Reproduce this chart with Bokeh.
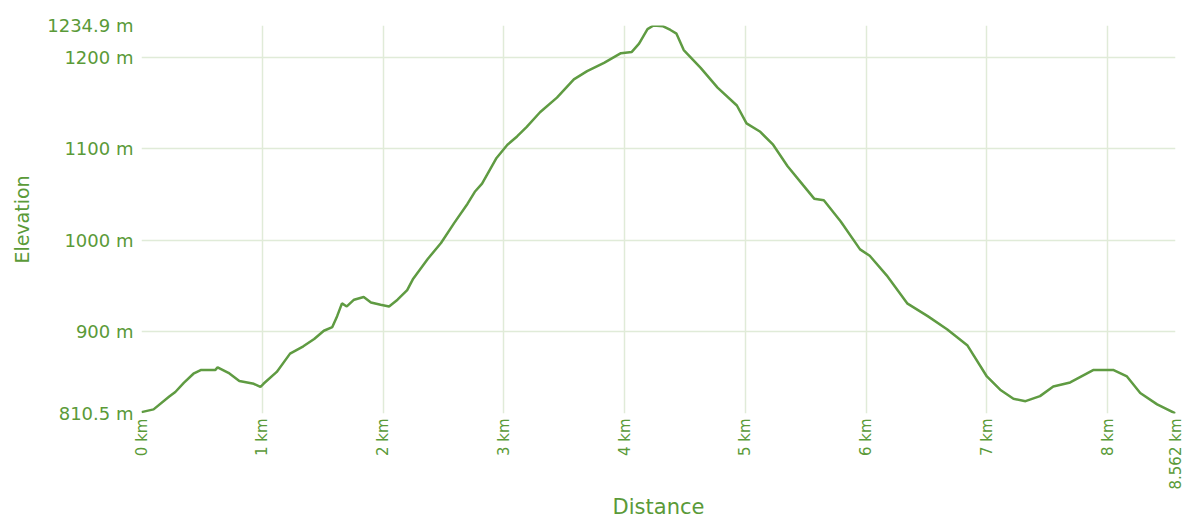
import math
from bokeh.plotting import figure
from bokeh.models import Range1d, FixedTicker, CustomJSTickFormatter
from bokeh.embed import file_html
from bokeh.resources import INLINE

# Distance along the track (km) and elevation (m)
dist = [0, 0.10, 0.23, 0.28, 0.35, 0.43, 0.49, 0.61, 0.63, 0.72, 0.81, 0.93, 0.985,
        1.01, 1.12, 1.23, 1.34, 1.43, 1.51, 1.58, 1.62, 1.66, 1.70, 1.76, 1.84, 1.90,
        1.98, 2.05, 2.12, 2.20, 2.25, 2.37, 2.48, 2.59, 2.70, 2.76, 2.82, 2.94, 3.03,
        3.11, 3.19, 3.30, 3.44, 3.58, 3.69, 3.83, 3.97, 4.06, 4.12, 4.19, 4.24, 4.32,
        4.38, 4.43, 4.49, 4.63, 4.77, 4.93, 5.01, 5.12, 5.23, 5.35, 5.48, 5.57, 5.65,
        5.79, 5.95, 6.03, 6.17, 6.34, 6.51, 6.67, 6.84, 7.00, 7.11, 7.22, 7.32, 7.44,
        7.55, 7.69, 7.88, 8.05, 8.16, 8.27, 8.41, 8.562]
elev = [812, 815, 829, 834, 844, 854, 858, 858, 861, 855, 846, 843, 839.5,
        843, 856, 876, 884, 892, 901, 905, 917, 931, 927.6, 935, 938, 932,
        929.5, 927.6, 935, 945.5, 958, 979.5, 997, 1019, 1040, 1053, 1062, 1090, 1104.5,
        1113.5, 1124, 1140, 1156, 1176, 1185, 1194, 1204.6, 1206, 1215, 1231, 1234.9, 1234,
        1230, 1226, 1208, 1188.5, 1167, 1147.4, 1127.8, 1119, 1104.5, 1081, 1060, 1045.5, 1043.8,
        1020.6, 990, 983, 961.6, 931, 917, 902.7, 884.8, 851, 836.5, 826.6, 824, 829.5,
        840, 844.5, 858, 858, 851, 833, 820.5, 810.5]

x_ticks = [0, 1, 2, 3, 4, 5, 6, 7, 8, 8.562]
y_ticks = [810.5, 900, 1000, 1100, 1200, 1234.9]

GREEN_TEXT = "#5a9a38"
GRID = "#e0ebd8"
FONT = "DejaVu Sans"

p = figure(width=1184, height=521, output_backend="svg", toolbar_location=None,
           x_range=Range1d(0, 8.562), y_range=Range1d(810.5, 1234.9),
           min_border_left=141, min_border_right=9, min_border_top=25,
           min_border_bottom=100)
p.outline_line_color = None
p.background_fill_color = "white"
p.border_fill_color = "white"

p.line(dist, elev, line_color="#5f9b42", line_width=2.5)

p.xaxis.ticker = FixedTicker(ticks=x_ticks)
p.yaxis.ticker = FixedTicker(ticks=y_ticks)
p.xgrid.ticker = FixedTicker(ticks=x_ticks)
p.ygrid.ticker = FixedTicker(ticks=y_ticks)
p.xaxis.formatter = CustomJSTickFormatter(code="return tick + ' km';")
p.yaxis.formatter = CustomJSTickFormatter(code="return tick + ' m';")

for g in (p.xgrid, p.ygrid):
    g.grid_line_color = GRID
    g.grid_line_width = 1.5

for ax in (p.xaxis, p.yaxis):
    ax.axis_line_color = None
    ax.major_tick_line_color = None
    ax.minor_tick_line_color = None
    ax.major_tick_out = 0
    ax.major_tick_in = 0
    ax.minor_tick_out = 0
    ax.minor_tick_in = 0
    ax.major_label_text_color = GREEN_TEXT
    ax.major_label_text_font = FONT
    ax.axis_label_text_color = GREEN_TEXT
    ax.axis_label_text_font = FONT
    ax.axis_label_text_font_style = "normal"

p.xaxis.major_label_orientation = math.pi / 2
p.xaxis.major_label_text_font_size = "15px"
p.xaxis.major_label_standoff = 5
p.xaxis.axis_label = "Distance"
p.xaxis.axis_label_text_font_size = "21px"
p.xaxis.axis_label_standoff = 2

p.yaxis.major_label_text_font_size = "18px"
p.yaxis.major_label_standoff = 8
p.yaxis.axis_label = "Elevation"
p.yaxis.axis_label_text_font_size = "19px"
p.yaxis.axis_label_standoff = 11

open("out.html", "w").write(file_html(p, INLINE))
